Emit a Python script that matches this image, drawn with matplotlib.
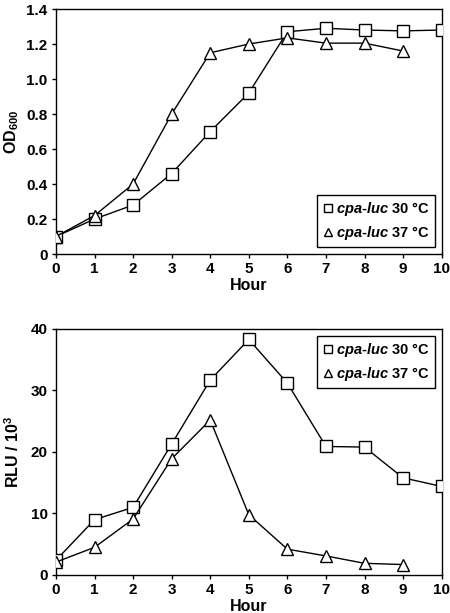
import matplotlib
matplotlib.use("Agg")
import matplotlib.pyplot as plt
from matplotlib.ticker import FuncFormatter

plt.rcParams['font.family'] = ['Liberation Sans', 'DejaVu Sans']
plt.rcParams['font.weight'] = 'bold'
plt.rcParams['mathtext.fontset'] = 'custom'
plt.rcParams['mathtext.it'] = 'Liberation Sans:italic:bold'
plt.rcParams['mathtext.rm'] = 'Liberation Sans:bold'
plt.rcParams['mathtext.bf'] = 'Liberation Sans:bold'

hours_30 = [0, 1, 2, 3, 4, 5, 6, 7, 8, 9, 10]
hours_37 = [0, 1, 2, 3, 4, 5, 6, 7, 8, 9]
od_30 = [0.10, 0.20, 0.28, 0.46, 0.70, 0.92, 1.27, 1.29, 1.28, 1.275, 1.28]
od_37 = [0.10, 0.22, 0.40, 0.80, 1.15, 1.20, 1.235, 1.205, 1.205, 1.16]
rlu_30 = [2.4, 9.0, 11.0, 21.3, 31.7, 38.3, 31.2, 20.9, 20.8, 15.8, 14.4]
rlu_37 = [2.1, 4.5, 9.1, 18.9, 25.2, 9.8, 4.2, 3.1, 1.9, 1.7]
label_30 = r"$cpa$-$luc$ 30 °C"
label_37 = r"$cpa$-$luc$ 37 °C"
xticks = list(range(0, 11))

fig = plt.figure(figsize=(4.5, 6.13), dpi=100)
ax1 = fig.add_axes([0.1244, 0.5856, 0.857, 0.3997])
ax2 = fig.add_axes([0.1244, 0.0620, 0.857, 0.4013])

mk = dict(color='black', lw=1.0, markersize=8.5, markerfacecolor='white',
          markeredgecolor='black', markeredgewidth=1.0)

def style(ax):
    for s in ax.spines.values():
        s.set_linewidth(1.0)
    ax.tick_params(axis='both', direction='out', length=3, width=1.0,
                   labelsize=11, pad=3)
    ax.set_xlim(0, 10)
    ax.set_xticks(xticks)
    ax.set_xlabel('Hour', fontsize=11.5, fontweight='bold', labelpad=1)
    for lab in ax.get_xticklabels() + ax.get_yticklabels():
        lab.set_fontweight('bold')

ax1.plot(hours_30, od_30, marker='s', label=label_30, zorder=3, **mk)
ax1.plot(hours_37, od_37, marker='^', label=label_37, zorder=3, **mk)
ax1.set_ylim(0, 1.4)
ax1.set_yticks([0, 0.2, 0.4, 0.6, 0.8, 1.0, 1.2, 1.4])
ax1.yaxis.set_major_formatter(FuncFormatter(lambda v, p: '0' if abs(v) < 1e-9 else f'{v:.1f}'))
ax1.set_ylabel(r'OD$_{\mathrm{600}}$', fontsize=11.5, fontweight='bold', labelpad=4)
style(ax1)

ax2.plot(hours_30, rlu_30, marker='s', label=label_30, zorder=3, **mk)
ax2.plot(hours_37, rlu_37, marker='^', label=label_37, zorder=3, **mk)
ax2.set_ylim(0, 40)
ax2.set_yticks([0, 10, 20, 30, 40])
ax2.set_ylabel(r'RLU / 10$^{\mathrm{3}}$', fontsize=11.5, fontweight='bold', labelpad=6)
style(ax2)

for ax, loc in ((ax1, 'lower right'), (ax2, 'upper right')):
    leg = ax.legend(loc=loc, frameon=True, fancybox=False, framealpha=1,
                    edgecolor='black', handlelength=0.7, handletextpad=0.25,
                    borderpad=0.35, labelspacing=0.45, borderaxespad=0.45,
                    prop={'weight': 'bold', 'size': 10.5}, markerscale=0.72)
    leg.get_frame().set_linewidth(1.0)
    for h in leg.get_lines():
        h.set_linestyle('none')

fig.savefig('out.png', dpi=100)
